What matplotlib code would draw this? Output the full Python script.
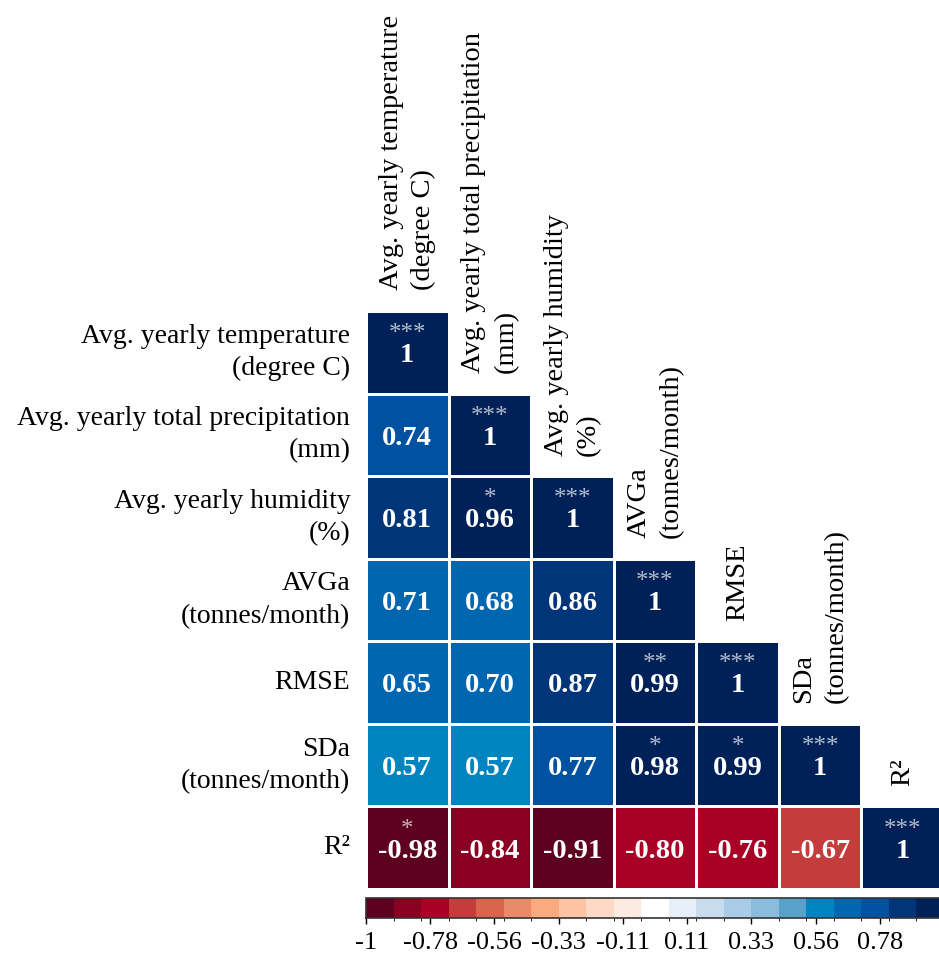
import numpy as np
import matplotlib
matplotlib.use("Agg")
import matplotlib.pyplot as plt
from matplotlib.colors import ListedColormap, BoundaryNorm
from matplotlib.cm import ScalarMappable

plt.rcParams["font.family"] = ["Liberation Serif", "DejaVu Serif"]

# variables (row / column order)
labels = [
    "Avg. yearly temperature\n(degree C)",
    "Avg. yearly total precipitation\n(mm)",
    "Avg. yearly humidity\n(%)",
    "AVGa\n(tonnes/month)",
    "RMSE",
    "SDa\n(tonnes/month)",
    "R\u00b2",
]

# lower triangle of the correlation matrix, row by row
corr_rows = [
    [1],
    [0.74, 1],
    [0.81, 0.96, 1],
    [0.71, 0.68, 0.86, 1],
    [0.65, 0.70, 0.87, 0.99, 1],
    [0.57, 0.57, 0.77, 0.98, 0.99, 1],
    [-0.98, -0.84, -0.91, -0.80, -0.76, -0.67, 1],
]

# significance stars
sig_rows = [
    ["***"],
    ["", "***"],
    ["", "*", "***"],
    ["", "", "", "***"],
    ["", "", "", "**", "***"],
    ["", "", "", "*", "*", "***"],
    ["*", "", "", "", "", "", "***"],
]

# 21-step red-white-blue palette
palette = [
    "#5e001f", "#8a0020", "#ab0025", "#c43c3b", "#d8654c", "#ea8a68",
    "#fbaa80", "#fec3a3", "#fed9c6", "#fdebe1", "#ffffff",
    "#e6eef7", "#c9dcee", "#a9cde6", "#8abddc", "#5aa1ca",
    "#0084c0", "#0066b0", "#0052a0", "#00357a", "#002158",
]
cb_ticks = np.linspace(-1, 1, 10)

n = len(labels)
mat = np.full((n, n), np.nan)
for i, row in enumerate(corr_rows):
    mat[i, :len(row)] = row
mat = np.ma.masked_invalid(mat)

cmap = ListedColormap(palette)
norm = BoundaryNorm(np.linspace(-1, 1, len(palette) + 1), cmap.N)

W, H = 939, 955
fig = plt.figure(figsize=(W / 100, H / 100), dpi=100)

# matrix axes in pixel units
x0, y0, side = 366, 311, 578
ax = fig.add_axes([x0 / W, 1 - (y0 + side) / H, side / W, side / H])
ax.pcolormesh(np.arange(n + 1), np.arange(n + 1), mat, cmap=cmap, norm=norm,
              edgecolors="white", linewidth=1.0)
ax.set_xlim(0, n)
ax.set_ylim(n, 0)
ax.axis("off")

fs = 20
for i, row in enumerate(corr_rows):
    for j, v in enumerate(row):
        txt = "1" if v == 1 else f"{v:.2f}"
        ax.text(j + 0.5, i + 0.54, txt, ha="center", va="center",
                color="white", fontsize=fs + 0.5, fontweight="bold")
        stars = sig_rows[i][j]
        if stars:
            ax.text(j + 0.5, i + 0.28, stars, ha="center", va="center",
                    color="white", alpha=0.7, fontsize=18)

# row labels on the left
for i, lab in enumerate(labels):
    ax.text(-0.19, i + 0.5, lab, ha="right", va="center",
            multialignment="right", fontsize=fs, linespacing=1.38,
            clip_on=False)

# column labels above the diagonal
for j, lab in enumerate(labels):
    ax.text(j + 0.5, j - 0.25, lab, ha="center", va="bottom", rotation=90,
            multialignment="left", fontsize=fs + 0.5, linespacing=1.38,
            clip_on=False)

# colour bar
cax = fig.add_axes([x0 / W, 1 - 918 / H, side / W, 20 / H])
cb = fig.colorbar(ScalarMappable(norm=norm, cmap=cmap), cax=cax,
                  orientation="horizontal", ticks=cb_ticks)
cb.ax.set_xticklabels([f"{t:.2g}" for t in cb_ticks])
cb.outline.set_edgecolor("#333333")
cb.outline.set_linewidth(1.2)
cb.ax.tick_params(direction="out", length=4, width=1, pad=6,
                  labelsize=19, colors="black")

fig.savefig("out.png", dpi=100)
